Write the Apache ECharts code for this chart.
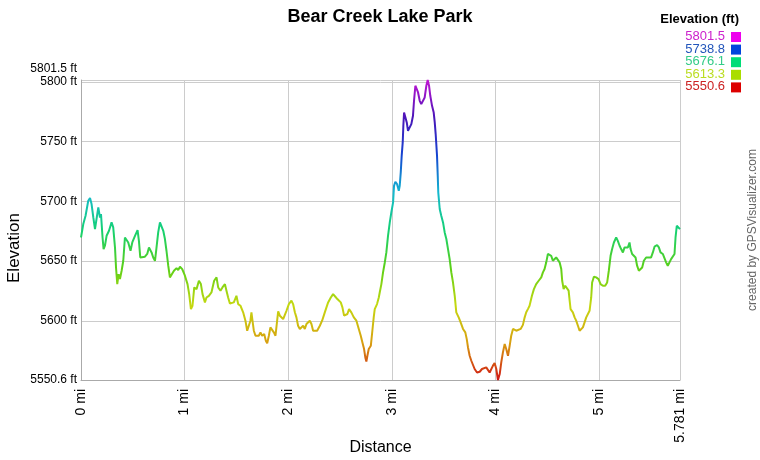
<!DOCTYPE html>
<html>
<head>
<meta charset="utf-8">
<script src="https://cdn.jsdelivr.net/npm/echarts@6/dist/echarts.min.js"></script>
<style>html,body{margin:0;padding:0;background:#fff}#c{width:760px;height:460px}</style>
</head>
<body>
<div id="c"></div>
<script>
const titleText = 'Bear Creek Lake Park';
const xName = 'Distance';
const yName = 'Elevation';
const creditText = 'created by GPSVisualizer.com';
const legendTitle = 'Elevation (ft)';
const legendValues = ['5801.5', '5738.8', '5676.1', '5613.3', '5550.6'];
const legendTextColors = ['#cc22cc', '#2255bb', '#33cc88', '#bbdd22', '#cc2222'];
const legendSwatchColors = ['#ee00ee', '#0044dd', '#00dd77', '#aadd00', '#dd0000'];
const xTicks = [0, 1, 2, 3, 4, 5, 5.781];
const yTicks = [5550.6, 5600, 5650, 5700, 5750, 5800, 5801.5];
const yMin = 5550.6, yMax = 5801.5, xMax = 5.781;
const gradientColors = ['#d01515', '#d8a010', '#c4d810', '#5ad018', '#15d173', '#15b9d1', '#1544d1', '#4a15b8', '#c015d1'];

const distance = [
0.000,0.022,0.044,0.070,0.087,0.102,0.119,0.135,0.150,0.167,0.183,0.193,0.208,0.218,0.231,0.247,0.270,0.295,0.311,0.328,
0.338,0.350,0.363,0.376,0.392,0.408,0.424,0.440,0.456,0.478,0.495,0.521,0.546,0.559,0.572,0.591,0.617,0.639,0.656,0.668,
0.681,0.697,0.714,0.729,0.745,0.762,0.777,0.794,0.810,0.825,0.842,0.858,0.874,0.897,0.922,0.938,0.955,0.977,1.003,1.028,
1.044,1.061,1.076,1.093,1.115,1.138,1.157,1.173,1.196,1.211,1.234,1.259,1.285,1.308,1.324,1.346,1.365,1.389,1.404,1.420,
1.437,1.452,1.475,1.500,1.517,1.539,1.565,1.587,1.604,1.620,1.635,1.645,1.655,1.668,1.684,1.700,1.716,1.732,1.748,1.768,
1.784,1.797,1.813,1.828,1.845,1.861,1.877,1.893,1.903,1.919,1.934,1.951,1.967,1.983,2.006,2.031,2.047,2.064,2.079,2.095,
2.112,2.127,2.144,2.160,2.176,2.192,2.208,2.224,2.240,2.257,2.279,2.305,2.327,2.353,2.385,2.411,2.433,2.455,2.474,2.491,
2.507,2.523,2.539,2.555,2.571,2.587,2.609,2.633,2.658,2.681,2.700,2.716,2.732,2.744,2.754,2.764,2.777,2.797,2.812,2.825,
2.835,2.857,2.874,2.883,2.899,2.915,2.932,2.947,2.963,2.980,2.995,3.012,3.021,3.034,3.050,3.067,3.076,3.086,3.095,3.105,
3.111,3.118,3.130,3.144,3.156,3.173,3.188,3.204,3.214,3.227,3.243,3.253,3.269,3.284,3.301,3.317,3.333,3.346,3.359,3.371,
3.388,3.404,3.414,3.423,3.436,3.443,3.448,3.462,3.477,3.494,3.510,3.526,3.542,3.558,3.574,3.590,3.607,3.622,3.645,3.664,
3.687,3.709,3.723,3.735,3.751,3.767,3.783,3.799,3.822,3.848,3.870,3.889,3.911,3.928,3.944,3.959,3.976,3.992,4.008,4.024,
4.041,4.056,4.072,4.089,4.104,4.121,4.137,4.152,4.169,4.185,4.201,4.217,4.243,4.265,4.282,4.297,4.313,4.329,4.352,4.371,
4.393,4.417,4.442,4.458,4.474,4.490,4.506,4.523,4.538,4.554,4.571,4.586,4.603,4.619,4.635,4.644,4.658,4.673,4.690,4.706,
4.716,4.725,4.747,4.764,4.779,4.796,4.812,4.827,4.844,4.860,4.876,4.892,4.908,4.924,4.933,4.950,4.972,4.995,5.014,5.037,
5.059,5.078,5.094,5.111,5.126,5.143,5.165,5.181,5.198,5.213,5.230,5.246,5.261,5.278,5.294,5.304,5.319,5.336,5.352,5.367,
5.384,5.400,5.416,5.432,5.454,5.477,5.502,5.519,5.535,5.560,5.577,5.593,5.615,5.632,5.647,5.663,5.680,5.695,5.712,5.728,
5.738,5.750,5.767,5.781
];
const elevation = [
5669.8,5681.0,5688.0,5700.5,5702.8,5697.7,5686.5,5676.8,5675.4,5695.0,5686.5,5689.4,5669.8,5660.0,5662.9,5671.2,5675.4,5682.4,5678.2,5661.5,
5644.7,5630.8,5639.1,5635.0,5642.0,5650.3,5669.8,5671.2,5665.6,5658.7,5665.6,5671.2,5676.0,5667.0,5653.1,5651.7,5653.7,5656.0,5661.5,5662.9,
5657.3,5653.1,5650.3,5661.5,5674.0,5682.4,5682.4,5675.4,5668.5,5658.7,5646.2,5636.4,5637.8,5642.0,5644.2,5642.5,5645.3,5643.3,5637.8,5630.8,
5622.4,5609.9,5612.7,5628.0,5626.6,5633.6,5630.8,5622.4,5615.5,5619.6,5621.0,5623.8,5633.6,5636.4,5628.0,5625.3,5628.0,5630.8,5625.3,5619.6,
5614.6,5614.1,5615.5,5621.0,5614.1,5612.7,5607.2,5600.2,5591.8,5590.4,5600.2,5607.2,5600.2,5591.8,5587.6,5589.0,5587.6,5590.4,5587.6,5589.0,
5583.4,5581.2,5587.6,5594.6,5596.0,5590.4,5587.6,5600.2,5608.0,5604.4,5605.8,5601.6,5600.2,5608.5,5614.1,5616.9,5614.1,5607.2,5603.0,5596.0,
5593.3,5594.6,5596.0,5593.3,5597.4,5596.0,5600.2,5597.4,5591.8,5590.4,5591.8,5596.0,5600.2,5607.2,5615.5,5619.6,5622.4,5620.2,5618.3,5619.6,
5615.5,5611.3,5604.4,5603.0,5605.8,5609.9,5607.2,5603.0,5600.2,5593.3,5587.6,5582.0,5576.5,5569.5,5566.1,5570.9,5576.5,5579.2,5591.8,5603.0,
5609.9,5614.1,5619.6,5623.8,5630.8,5640.6,5648.9,5657.3,5671.2,5682.4,5690.7,5699.1,5713.0,5716.4,5714.5,5708.9,5713.0,5724.2,5738.1,5749.3,
5763.2,5774.3,5773.0,5766.0,5759.0,5760.4,5764.6,5771.6,5784.1,5796.7,5798.1,5791.1,5784.1,5781.3,5779.9,5786.9,5796.7,5801.5,5796.7,5788.3,
5779.9,5774.3,5766.0,5756.3,5738.1,5721.4,5707.5,5693.6,5688.0,5682.4,5674.0,5668.5,5660.1,5651.7,5640.6,5632.2,5621.0,5607.2,5603.0,5598.8,
5593.3,5590.4,5584.8,5577.8,5570.9,5566.7,5565.3,5559.8,5556.9,5557.5,5559.8,5558.4,5561.2,5559.8,5556.9,5558.4,5562.6,5564.8,5559.8,5550.6,
5555.6,5565.3,5573.7,5580.7,5576.5,5570.9,5579.2,5587.6,5593.3,5594.6,5591.8,5593.3,5593.3,5596.7,5603.0,5607.2,5609.9,5612.7,5621.0,5626.6,
5630.8,5633.6,5636.4,5640.6,5643.4,5649.0,5656.0,5657.3,5654.5,5650.3,5651.7,5653.1,5651.7,5649.0,5643.4,5633.6,5626.6,5629.4,5629.4,5625.3,
5616.9,5609.9,5607.2,5603.0,5600.2,5596.0,5591.8,5590.4,5594.6,5598.8,5603.0,5604.4,5608.5,5619.6,5632.2,5637.0,5636.4,5635.0,5630.8,5629.4,
5629.4,5632.2,5642.0,5654.5,5660.1,5665.6,5669.8,5667.0,5662.9,5660.1,5657.3,5661.5,5660.1,5661.5,5665.6,5660.1,5656.0,5657.3,5653.1,5646.2,
5642.0,5640.6,5644.7,5650.3,5653.1,5653.1,5653.1,5657.3,5662.1,5663.5,5661.5,5657.3,5656.0,5654.5,5649.0,5646.2,5647.6,5651.7,5650.3,5656.0,
5669.8,5679.6,5678.2,5676.8
];

const FONT = '"Liberation Sans", Arial, sans-serif';
const chart = echarts.init(document.getElementById('c'), null, {renderer: 'canvas'});
const points = distance.map((d, i) => [d, elevation[i]]);

const graphics = [];
graphics.push({type: 'text', right: 21, top: 13, style: {text: legendTitle, font: 'bold 13px ' + FONT, fill: '#000'}});
legendValues.forEach((v, i) => {
  graphics.push({type: 'text', right: 35, top: 30 + i * 12.6, style: {text: v, font: '13px ' + FONT, fill: legendTextColors[i]}});
  graphics.push({type: 'rect', right: 19, top: 32 + i * 12.6, shape: {width: 10, height: 10}, style: {fill: legendSwatchColors[i]}});
});
graphics.push({type: 'text', x: 753, y: 230, rotation: Math.PI / 2,
  style: {text: creditText, font: '12px ' + FONT, fill: '#666', align: 'center', verticalAlign: 'middle'}});

chart.setOption({
  animation: false,
  backgroundColor: '#fff',
  title: {text: titleText, left: 'center', top: 3,
    textStyle: {fontFamily: FONT, fontSize: 18, fontWeight: 'bold', color: '#000'}},
  grid: {left: 81, right: 80, top: 80, bottom: 80, containLabel: false, outerBoundsMode: 'none'},
  visualMap: {type: 'continuous', show: false, dimension: 1, min: yMin, max: yMax,
    inRange: {color: gradientColors}},
  xAxis: {
    type: 'value', min: 0, max: xMax,
    name: xName, nameLocation: 'middle', nameGap: 60, nameMoveOverlap: false,
    nameTextStyle: {fontFamily: FONT, fontSize: 16, color: '#000'},
    axisLine: {show: true, lineStyle: {color: '#aaa'}},
    axisTick: {show: false, customValues: xTicks},
    axisLabel: {customValues: xTicks, rotate: 90, margin: 9, fontFamily: FONT, fontSize: 14, color: '#000',
      formatter: v => v + ' mi'},
    splitLine: {show: true, lineStyle: {color: '#ccc', width: 1}}
  },
  yAxis: {
    type: 'value', min: yMin, max: yMax,
    name: yName, nameLocation: 'middle', nameGap: 58, nameRotate: 90, nameMoveOverlap: false,
    nameTextStyle: {fontFamily: FONT, fontSize: 17, color: '#000', padding: [0, 36, 0, 0]},
    axisLine: {show: true, lineStyle: {color: '#aaa'}},
    axisTick: {show: false, customValues: yTicks},
    axisLabel: {customValues: yTicks, margin: 4, fontFamily: FONT, fontSize: 12, color: '#000',
      formatter: v => (v === yMax ? '{up|' + v + ' ft}' : v + ' ft'),
      rich: {up: {fontFamily: FONT, fontSize: 12, color: '#000', padding: [0, 0, 22, 0]}}},
    splitLine: {show: true, lineStyle: {color: '#ccc', width: 1}}
  },
  series: [{
    type: 'line', data: points, showSymbol: false, symbol: 'none',
    lineStyle: {width: 2}, silent: true
  }],
  graphic: graphics
});
</script>
</body>
</html>
